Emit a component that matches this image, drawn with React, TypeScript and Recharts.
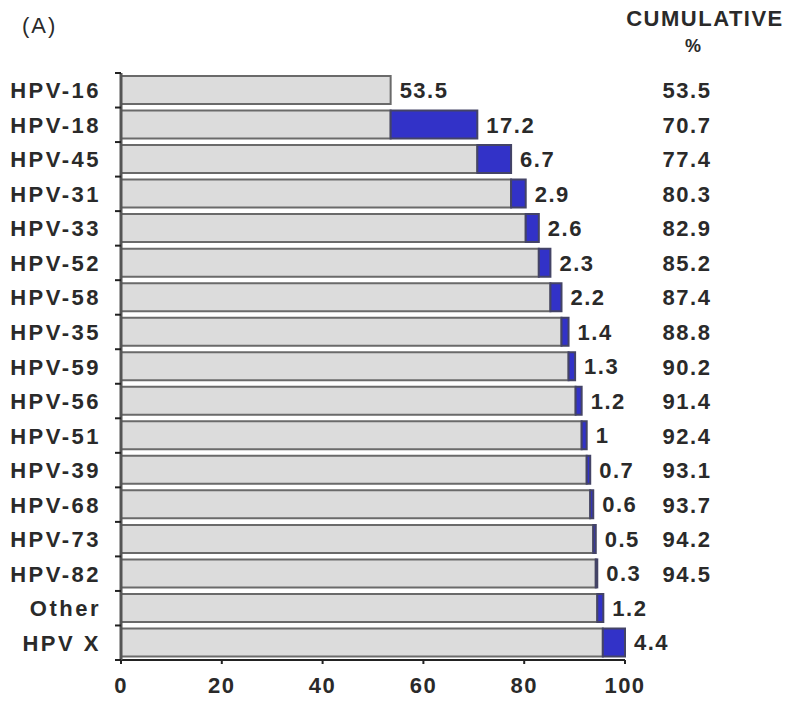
import React from 'react';
import { BarChart, Bar, XAxis, YAxis, LabelList } from 'recharts';

const types = [
  'HPV-16', 'HPV-18', 'HPV-45', 'HPV-31', 'HPV-33', 'HPV-52', 'HPV-58', 'HPV-35',
  'HPV-59', 'HPV-56', 'HPV-51', 'HPV-39', 'HPV-68', 'HPV-73', 'HPV-82', 'Other', 'HPV X',
];
// gray part = cumulative % before this type
const baseValues = [53.5, 53.5, 70.7, 77.4, 80.3, 82.9, 85.2, 87.4, 88.8, 90.2, 91.4, 92.4, 93.1, 93.7, 94.2, 94.5, 95.6];
// blue part = share added by this type
const addedValues = [0, 17.2, 6.7, 2.9, 2.6, 2.3, 2.2, 1.4, 1.3, 1.2, 1, 0.7, 0.6, 0.5, 0.3, 1.2, 4.4];
const valueLabels = ['53.5', '17.2', '6.7', '2.9', '2.6', '2.3', '2.2', '1.4', '1.3', '1.2', '1', '0.7', '0.6', '0.5', '0.3', '1.2', '4.4'];
const cumulativeLabels = ['53.5', '70.7', '77.4', '80.3', '82.9', '85.2', '87.4', '88.8', '90.2', '91.4', '92.4', '93.1', '93.7', '94.2', '94.5', '', ''];
const xTicks = [0, 20, 40, 60, 80, 100];

const data = types.map((name, i) => ({
  name,
  base: baseValues[i],
  added: addedValues[i],
}));

const FONT = '"Liberation Sans", Arial, sans-serif';
const TEXT = '#2a2a2a';

const LeftTick = (props: any) => {
  const { x, y, payload, index } = props;
  const half = payload.offset ?? 17;
  const axisX = x + 20;
  return (
    <g>
      <line x1={axisX - 6} x2={axisX} y1={y - half} y2={y - half} stroke="#222" strokeWidth={2} />
      {index === types.length - 1 && (
        <line x1={axisX - 6} x2={axisX} y1={y + half} y2={y + half} stroke="#222" strokeWidth={2} />
      )}
      <text x={x} y={y} dy={8} textAnchor="end" fill={TEXT} fontSize={22} fontWeight="bold" fontFamily={FONT} letterSpacing={2.5}>
        {payload.value}
      </text>
    </g>
  );
};

const RightTick = (props: any) => {
  const { x, y, index } = props;
  return (
    <text x={x + 60} y={y} dy={8} textAnchor="middle" fill={TEXT} fontSize={22} fontWeight="bold" fontFamily={FONT} letterSpacing={1.5}>
      {cumulativeLabels[index]}
    </text>
  );
};

// label at the end of the stack; for rows with no blue part it goes on the gray bar
const makeValueLabel = (onBase: boolean) => (props: any) => {
  const { x, y, width, height, value } = props;
  const i = types.indexOf(value);
  if (i < 0) return null;
  if (onBase !== (addedValues[i] === 0)) return null;
  return (
    <text x={x + width + 9} y={y + height / 2} dy={8} fill={TEXT} fontSize={22} fontWeight="bold" fontFamily={FONT} letterSpacing={1.5}>
      {valueLabels[i]}
    </text>
  );
};

export default function App() {
  return (
    <div style={{ position: 'absolute', left: 0, top: 0, width: 792, height: 702, background: '#fff' }}>
      <BarChart
        width={792}
        height={702}
        data={data}
        layout="vertical"
        margin={{ top: 73, right: 0, left: 0, bottom: 0 }}
        barSize={28}
      >
        <XAxis
          type="number"
          domain={[0, 100]}
          ticks={xTicks}
          height={42}
          axisLine={{ stroke: '#222', strokeWidth: 2 }}
          tickLine={{ stroke: '#222', strokeWidth: 2 }}
          tickSize={4}
          tickMargin={13}
          tick={{ fill: TEXT, fontSize: 22, fontWeight: 'bold', fontFamily: FONT, letterSpacing: 1.5 }}
        />
        <YAxis
          yAxisId="left"
          dataKey="name"
          type="category"
          width={121}
          axisLine={{ stroke: '#555', strokeWidth: 3 }}
          tickLine={false}
          tickMargin={0}
          tickSize={0}
          tick={(p: any) => <LeftTick {...p} x={p.x - 20} />}
        />
        <YAxis
          yAxisId="right"
          orientation="right"
          dataKey="name"
          type="category"
          width={167}
          axisLine={false}
          tickLine={false}
          tickSize={0}
          tick={<RightTick />}
        />
        <Bar yAxisId="left" dataKey="base" stackId="a" fill="#dcdcdc" stroke="#6a6a6a" strokeWidth={2} isAnimationActive={false}>
          <LabelList dataKey="name" content={makeValueLabel(true)} />
        </Bar>
        <Bar yAxisId="left" dataKey="added" stackId="a" fill="#3232c8" stroke="#444466" strokeWidth={2} isAnimationActive={false}>
          <LabelList dataKey="name" content={makeValueLabel(false)} />
        </Bar>
        <text x={22} y={33} fill={TEXT} fontSize={22} fontFamily={FONT} letterSpacing={2}>(A)</text>
        <text x={705} y={26} textAnchor="middle" fill={TEXT} fontSize={22} fontWeight="bold" fontFamily={FONT} letterSpacing={1.5}>CUMULATIVE</text>
        <text x={693} y={52} textAnchor="middle" fill={TEXT} fontSize={18} fontWeight="bold" fontFamily={FONT}>%</text>
      </BarChart>
    </div>
  );
}
